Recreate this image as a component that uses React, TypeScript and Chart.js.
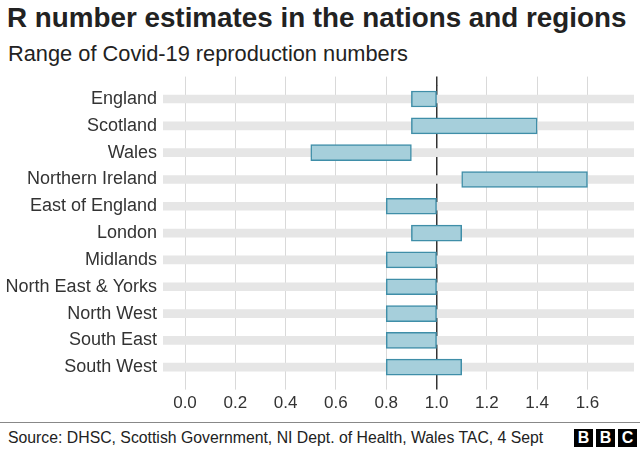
import React, { useEffect, useRef } from "react";
import { Chart, registerables } from "chart.js";

Chart.register(...registerables);

const categories = [
  "England",
  "Scotland",
  "Wales",
  "Northern Ireland",
  "East of England",
  "London",
  "Midlands",
  "North East & Yorks",
  "North West",
  "South East",
  "South West",
];
const rLow = [0.9, 0.9, 0.5, 1.1, 0.8, 0.9, 0.8, 0.8, 0.8, 0.8, 0.8];
const rHigh = [1.0, 1.4, 0.9, 1.6, 1.0, 1.1, 1.0, 1.0, 1.0, 1.0, 1.1];
const tickValues = [0, 0.2, 0.4, 0.6, 0.8, 1.0, 1.2, 1.4, 1.6];

const AXIS_MIN = -0.0875;
const AXIS_MAX = 1.785;

const FONT = '"Liberation Sans", Arial, Helvetica, sans-serif';

const gridColor = (ctx: any) =>
  ctx.tick && Math.abs(ctx.tick.value - 1) < 1e-6 ? "#333333" : "#d9d9d9";
const gridWidth = (ctx: any) =>
  ctx.tick && Math.abs(ctx.tick.value - 1) < 1e-6 ? 1.5 : 1;

export default function App() {
  const ref = useRef<HTMLCanvasElement | null>(null);

  useEffect(() => {
    if (!ref.current) return;
    const chart = new Chart(ref.current, {
      type: "bar",
      data: {
        labels: categories,
        datasets: [
          {
            label: "Range",
            data: rLow.map((v, i) => [v, rHigh[i]]) as any,
            backgroundColor: "#a6cfdb",
            borderColor: "#3f8ea8",
            borderWidth: 1.5,
            borderSkipped: false,
            barThickness: 16,
            grouped: false,
            order: 1,
          },
          {
            label: "band",
            data: categories.map(() => [AXIS_MIN, AXIS_MAX]) as any,
            backgroundColor: "#e6e6e6",
            borderWidth: 0,
            barThickness: 8,
            grouped: false,
            order: 2,
          },
        ],
      },
      options: {
        indexAxis: "y",
        responsive: false,
        animation: false,
        layout: { padding: { top: 16.6, right: 6, left: 0, bottom: 0 } },
        plugins: {
          legend: { display: false },
          tooltip: { enabled: false },
        },
        scales: {
          x: {
            type: "linear",
            position: "bottom",
            min: AXIS_MIN,
            max: AXIS_MAX,
            afterBuildTicks: (s: any) => {
              s.ticks = tickValues.map((v) => ({ value: v }));
            },
            ticks: {
              callback: (v: any) => Number(v).toFixed(1),
              font: { size: 17, family: FONT },
              color: "#333333",
              padding: 4,
              maxRotation: 0,
              autoSkip: false,
            },
            grid: {
              color: gridColor,
              lineWidth: gridWidth,
              tickLength: 9,
              drawTicks: true,
            },
            border: { display: false },
            afterFit: (s: any) => {
              s.height = 39.4;
            },
          },
          x2: {
            type: "linear",
            position: "top",
            min: AXIS_MIN,
            max: AXIS_MAX,
            afterBuildTicks: (s: any) => {
              s.ticks = tickValues.map((v) => ({ value: v }));
            },
            ticks: { display: false },
            grid: {
              color: gridColor,
              lineWidth: gridWidth,
              tickLength: 9,
              drawOnChartArea: false,
              drawTicks: true,
            },
            border: { display: false },
            afterFit: (s: any) => {
              s.height = 9;
            },
          },
          y: {
            type: "category",
            ticks: {
              font: { size: 18, family: FONT },
              color: "#333333",
              padding: 6,
              autoSkip: false,
            },
            grid: { display: false, drawTicks: false },
            border: { display: false },
            afterFit: (s: any) => {
              s.width = 163;
            },
          },
        },
      } as any,
    });
    return () => chart.destroy();
  }, []);

  const box: React.CSSProperties = {
    position: "absolute",
    top: 429,
    width: 19,
    height: 18,
    background: "#000",
    color: "#fff",
    fontWeight: "bold",
    fontSize: 16,
    lineHeight: "18px",
    textAlign: "center",
    fontFamily: FONT,
  };

  return (
    <div
      style={{
        position: "fixed",
        left: 0,
        top: 0,
        width: 640,
        height: 450,
        background: "#fff",
        overflow: "hidden",
        fontFamily: FONT,
        color: "#222",
      }}
    >
      <div
        style={{
          position: "absolute",
          left: 7,
          top: 2,
          fontSize: 27.8,
          fontWeight: "bold",
          lineHeight: "32px",
          whiteSpace: "nowrap",
        }}
      >
        R number estimates in the nations and regions
      </div>
      <div
        style={{
          position: "absolute",
          left: 8,
          top: 41,
          fontSize: 21.8,
          lineHeight: "25px",
          whiteSpace: "nowrap",
        }}
      >
        Range of Covid-19 reproduction numbers
      </div>
      <canvas
        ref={ref}
        width={640}
        height={360}
        style={{ position: "absolute", left: 0, top: 60, width: 640, height: 360 }}
      />
      <div
        style={{
          position: "absolute",
          left: 0,
          top: 422,
          width: 640,
          height: 1,
          background: "#888",
        }}
      />
      <div
        style={{
          position: "absolute",
          left: 8,
          top: 428,
          fontSize: 15.8,
          lineHeight: "19px",
          whiteSpace: "nowrap",
        }}
      >
        Source: DHSC, Scottish Government, NI Dept. of Health, Wales TAC, 4 Sept
      </div>
      <div style={{ ...box, left: 574 }}>B</div>
      <div style={{ ...box, left: 596 }}>B</div>
      <div style={{ ...box, left: 618 }}>C</div>
    </div>
  );
}
